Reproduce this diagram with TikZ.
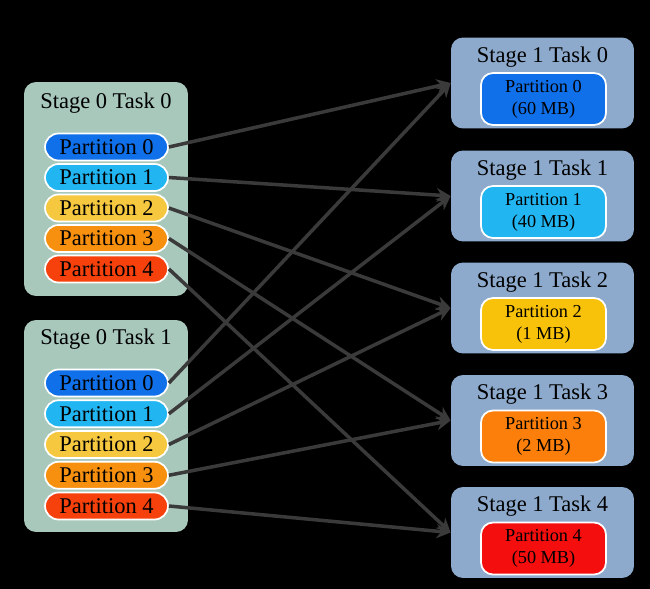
\documentclass[tikz,border=0pt]{standalone}
\usepackage{fontspec}
\setmainfont{Liberation Serif}
\usepackage{tikz}
\usetikzlibrary{arrows.meta,positioning}
\definecolor{sagebox}{HTML}{A8C8BC}
\definecolor{steelbox}{HTML}{8DAACD}
\definecolor{pblue}{HTML}{1070EA}
\definecolor{pcyan}{HTML}{21B6F2}
\definecolor{pyellow}{HTML}{F6C840}
\definecolor{porange}{HTML}{F7900F}
\definecolor{pred}{HTML}{F7410C}
\definecolor{ryellow}{HTML}{F9C20A}
\definecolor{rorange}{HTML}{FB7F0A}
\definecolor{rred}{HTML}{F50E0E}
\definecolor{shufline}{HTML}{3A3A3A}
\tikzset{
  mapbox/.style={rounded corners=12*0.2mm,fill=sagebox,minimum width=3.28cm},
  redbox/.style={rounded corners=12*0.2mm,fill=steelbox,minimum width=3.66cm,minimum height=1.82cm},
  title/.style={font=\fontsize{12.8}{14}\selectfont},
  part/.style={rounded corners=0.27cm,draw=white,line width=1pt,minimum width=2.46cm,minimum height=0.54cm,inner sep=0pt,font=\fontsize{12.8}{14}\selectfont},
  merged/.style={rounded corners=12*0.2mm,draw=white,line width=1pt,minimum width=2.5cm,minimum height=1.04cm,inner sep=0pt,align=center,font=\fontsize{10.4}{12.5}\selectfont},
  shuffle/.style={-{Stealth[length=8pt,width=8pt]},line width=2pt,draw=shufline}
}
\begin{document}
\begin{tikzpicture}[x=0.02cm,y=-0.02cm]
\fill[black] (0,0) rectangle (650,589);
\useasboundingbox (0,0) rectangle (650,589);
% stage 0
\node (m0) [mapbox,minimum height=4.28cm] at (106,189) {};
\node (m0t) [title] at (106,103) {Stage 0 Task 0};
\node (m0p0) [part,fill=pblue] at (106.5,147) {Partition 0};
\node (m0p1) [part,fill=pcyan] at (106.5,177.5) {Partition 1};
\node (m0p2) [part,fill=pyellow] at (106.5,208) {Partition 2};
\node (m0p3) [part,fill=porange] at (106.5,238.5) {Partition 3};
\node (m0p4) [part,fill=pred] at (106.5,269) {Partition 4};
%
\node (m1) [mapbox,minimum height=4.24cm] at (106,426) {};
\node (m1t) [title] at (106,339) {Stage 0 Task 1};
\node (m1p0) [part,fill=pblue] at (106.5,383) {Partition 0};
\node (m1p1) [part,fill=pcyan] at (106.5,413.75) {Partition 1};
\node (m1p2) [part,fill=pyellow] at (106.5,444.5) {Partition 2};
\node (m1p3) [part,fill=porange] at (106.5,475.25) {Partition 3};
\node (m1p4) [part,fill=pred] at (106.5,506) {Partition 4};
% stage 1
\node (r0) [redbox] at (542.5,83) {};
\node (r0t) [title] at (542.5,57) {Stage 1 Task 0};
\node (r0p) [merged,fill=pblue] at (543.5,99) {Partition 0\\(60 MB)};
\node (r1) [redbox] at (542.5,196) {};
\node (r1t) [title] at (542.5,170) {Stage 1 Task 1};
\node (r1p) [merged,fill=pcyan] at (543.5,212) {Partition 1\\(40 MB)};
\node (r2) [redbox] at (542.5,308) {};
\node (r2t) [title] at (542.5,282) {Stage 1 Task 2};
\node (r2p) [merged,fill=ryellow] at (543.5,324) {Partition 2\\(1 MB)};
\node (r3) [redbox] at (542.5,420.5) {};
\node (r3t) [title] at (542.5,394.5) {Stage 1 Task 3};
\node (r3p) [merged,fill=rorange] at (543.5,436.5) {Partition 3\\(2 MB)};
\node (r4) [redbox] at (542.5,532.5) {};
\node (r4t) [title] at (542.5,506.5) {Stage 1 Task 4};
\node (r4p) [merged,fill=rred] at (543.5,548.5) {Partition 4\\(50 MB)};
%
\path (m0p0.east) edge[shuffle] (r0.west);
\path (m0p1.east) edge[shuffle] (r1.west);
\path (m0p2.east) edge[shuffle] (r2.west);
\path (m0p3.east) edge[shuffle] (r3.west);
\path (m0p4.east) edge[shuffle] (r4.west);
%
\path (m1p0.east) edge[shuffle] (r0.west);
\path (m1p1.east) edge[shuffle] (r1.west);
\path (m1p2.east) edge[shuffle] (r2.west);
\path (m1p3.east) edge[shuffle] (r3.west);
\path (m1p4.east) edge[shuffle] (r4.west);
\end{tikzpicture}
\end{document}
